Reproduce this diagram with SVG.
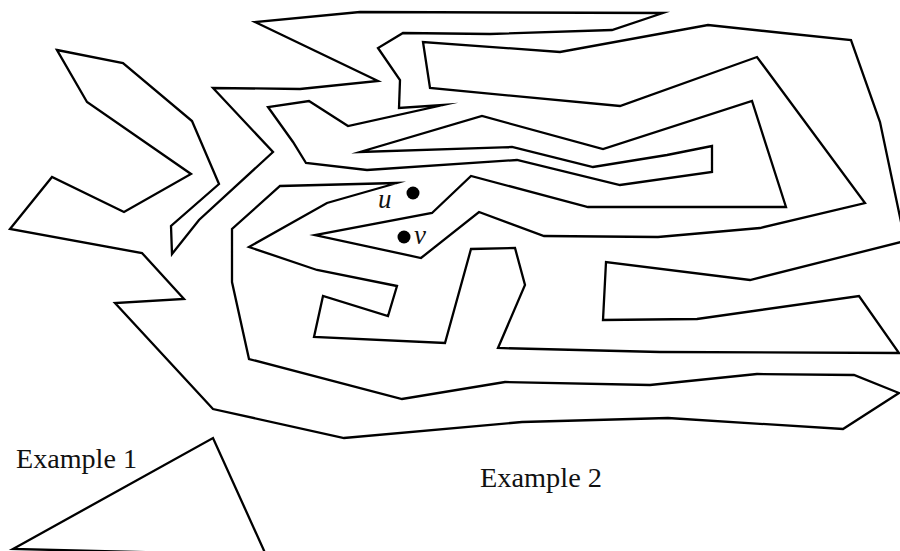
<svg xmlns="http://www.w3.org/2000/svg" width="900" height="551" viewBox="0 0 900 551">
<style>
.shape{fill:none;stroke:#000;stroke-width:2.3;stroke-linejoin:miter;stroke-miterlimit:20}
.lbl{font-family:"Liberation Serif","DejaVu Serif",serif;font-size:27px;fill:#111}
.var{font-family:"Liberation Serif","DejaVu Serif",serif;font-style:italic;font-size:27px;fill:#111}
.dot{fill:#000}
</style>
<rect width="900" height="551" fill="#fff"/>
<g id="example2">
<polygon class="shape" points="57,50 123,63 192,121 219,184 171,226 172,254 199,220 273,152 213,88 300,89 378,81 255,22 360,12 663,13 612,30 490,34 403,33 378,48 400,80 399,108 443,105 348,126 309,101 268,107 293,142 306,163 367,170 517,160 620,185 712,172 712,146 667,155 593,167 512,147 360,152 482,116 603,149 752,101 786,207 588,207 471,176 432,213 315,235 421,258 479,212 544,236 658,237 760,228 865,203 757,57 620,106 430,88 423,42 560,52 708,25 783,33 851,40 880,122 905,241 750,280 606,262 603,320 697,319 859,296 899,353 660,352 498,348 525,285 515,248 471,249 445,343 314,337 323,296 388,316 397,286 317,270 249,247 327,203 397,183 280,186 232,229 232,282 249,359 402,399 505,382 650,385 757,374 854,375 899,393 843,429 668,418 522,422 344,438 213,409 115,303 184,299 142,253 10,229 52,177 124,212 191,174 87,102"/>
</g>
<g id="point-u">
<circle class="dot" cx="413" cy="193" r="6.5"/>
<text class="var" x="378" y="208">u</text>
</g>
<g id="point-v">
<circle class="dot" cx="404" cy="237" r="6.5"/>
<text class="var" x="414" y="244">v</text>
</g>
<g id="example1">
<polygon class="shape" points="13,549 213,438 266,555"/>
</g>
<text class="lbl" x="16" y="468" textLength="121" lengthAdjust="spacingAndGlyphs">Example 1</text>
<text class="lbl" x="480" y="487" textLength="122" lengthAdjust="spacingAndGlyphs">Example 2</text>
</svg>
